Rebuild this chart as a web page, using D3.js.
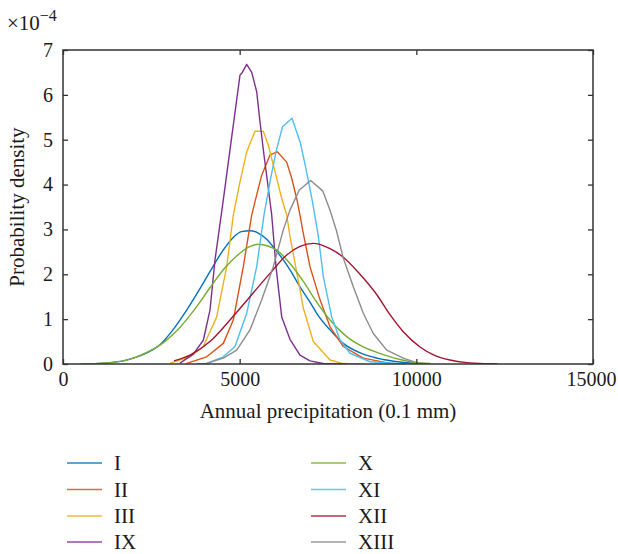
<!DOCTYPE html>
<html>
<head>
<meta charset="utf-8">
<script src="https://cdn.jsdelivr.net/npm/d3@7"></script>
<style>
  html, body { margin: 0; padding: 0; background: #fff; }
  svg { display: block; }
  text { font-family: "Liberation Serif", "DejaVu Serif", serif; fill: #1a1a1a; }
</style>
</head>
<body>
<svg id="chart" width="618" height="554"></svg>
<script>
// Annual precipitation (0.1 mm) and probability density (x 1e-4) per zone
const names = ["I", "II", "III", "IX", "X", "XI", "XII", "XIII"];
const colors = ["#0072BD", "#D95319", "#EDB120", "#7E2F8E", "#77AC30", "#4DBEEE", "#A2142F", "#8C8C8C"];

const xI = [500, 1000, 1330, 1700, 1990, 2400, 2745, 3100, 3500, 3800, 4160, 4500, 4820, 5050, 5292, 5500, 5765, 6000, 6235, 6424, 6707, 6990, 7180, 7557, 7933, 8499, 9065, 9727, 10300];
const yI = [0.00, 0.01, 0.03, 0.07, 0.13, 0.26, 0.43, 0.75, 1.20, 1.58, 2.06, 2.50, 2.82, 2.95, 2.97, 2.93, 2.78, 2.56, 2.32, 2.10, 1.72, 1.38, 1.13, 0.76, 0.46, 0.22, 0.10, 0.03, 0.005];

const xII = [3500, 4067, 4537, 4820, 5103, 5341, 5482, 5624, 5858, 6065, 6331, 6473, 6614, 6707, 6801, 6990, 7274, 7557, 7933, 8499, 9255];
const yII = [0.015, 0.16, 0.46, 0.98, 2.17, 3.32, 3.77, 4.21, 4.66, 4.73, 4.50, 4.14, 3.69, 3.32, 2.91, 2.17, 1.43, 0.83, 0.39, 0.13, 0.015];

const xIII = [3030, 3594, 3971, 4350, 4633, 4820, 5009, 5199, 5434, 5669, 5810, 6000, 6190, 6331, 6424, 6614, 6801, 7084, 7557, 7925, 8500];
const yIII = [0.02, 0.16, 0.39, 1.05, 2.17, 3.32, 4.06, 4.73, 5.19, 5.19, 4.88, 4.29, 3.69, 3.32, 2.85, 2.05, 1.25, 0.50, 0.09, 0.01, 0.0];

const xIX = [3311, 3688, 3971, 4160, 4302, 4537, 4707, 5009, 5075, 5199, 5341, 5482, 5575, 5688, 5810, 5907, 6028, 6190, 6424, 6707, 6990, 7358, 8000];
const yIX = [0.02, 0.22, 0.53, 1.20, 2.32, 3.66, 4.66, 6.44, 6.50, 6.68, 6.50, 6.07, 5.40, 4.66, 3.92, 3.32, 2.17, 1.05, 0.55, 0.20, 0.07, 0.01, 0.0];

const xX = [500, 1000, 1330, 1700, 2086, 2400, 2745, 3217, 3688, 4160, 4537, 5009, 5300, 5529, 5800, 6048, 6424, 6801, 7180, 7557, 8029, 8499, 9065, 9538, 9915, 10400];
const yX = [0.00, 0.01, 0.03, 0.07, 0.16, 0.27, 0.42, 0.74, 1.18, 1.70, 2.10, 2.47, 2.62, 2.67, 2.63, 2.54, 2.24, 1.84, 1.38, 0.98, 0.61, 0.38, 0.21, 0.10, 0.04, 0.01];

const xXI = [3800, 4067, 4537, 4868, 5199, 5482, 5688, 5858, 6028, 6213, 6481, 6722, 6877, 7060, 7226, 7367, 7605, 7840, 8123, 8689, 9500, 10104];
const yXI = [0.0, 0.015, 0.16, 0.39, 1.13, 2.17, 3.32, 4.06, 4.73, 5.29, 5.48, 4.92, 4.35, 3.62, 2.85, 1.95, 1.05, 0.535, 0.24, 0.05, 0.01, 0.0];

const xXII = [3141, 3594, 4160, 4726, 5292, 5858, 6331, 6707, 7084, 7557, 7933, 8405, 8877, 9255, 9631, 10104, 10500, 10953, 11425, 11991, 12300];
const yXII = [0.07, 0.20, 0.50, 0.98, 1.50, 2.02, 2.43, 2.62, 2.69, 2.57, 2.38, 2.00, 1.55, 1.10, 0.72, 0.38, 0.20, 0.09, 0.03, 0.005, 0.0];

const xXIII = [3800, 4067, 4537, 4916, 5292, 5624, 5952, 6235, 6424, 6688, 7010, 7350, 7557, 7740, 7933, 8216, 8499, 8782, 9161, 9631, 10010, 10150];
const yXIII = [0.0, 0.015, 0.13, 0.31, 0.76, 1.43, 2.17, 2.99, 3.43, 3.88, 4.09, 3.86, 3.43, 2.97, 2.36, 1.72, 1.13, 0.68, 0.31, 0.13, 0.03, 0.0];

const xTicks = [0, 5000, 10000, 15000];
const yTicks = [0, 1, 2, 3, 4, 5, 6, 7];

const seriesX = [xI, xII, xIII, xIX, xX, xXI, xXII, xXIII];
const seriesY = [yI, yII, yIII, yIX, yX, yXI, yXII, yXIII];
// smooth kernel-style curves vs. coarsely sampled ones
const smooth = [true, false, false, false, true, false, true, false];

const svg = d3.select("#chart");
const margin = { left: 63, right: 25, top: 50, bottom: 190 };
const W = 618, H = 554;
const x = d3.scaleLinear().domain([0, 15000]).range([margin.left, W - margin.right]);
const y = d3.scaleLinear().domain([0, 7]).range([H - margin.bottom, margin.top]);

const plot = svg.append("g");
plot.append("clipPath").attr("id", "clip")
  .append("rect").attr("x", x(0)).attr("y", y(7)).attr("width", x(15000) - x(0)).attr("height", y(0) - y(7));

const curves = plot.append("g").attr("clip-path", "url(#clip)");
names.forEach((n, i) => {
  const pts = seriesX[i].map((v, j) => [v, seriesY[i][j]]);
  const line = d3.line()
    .x(d => x(d[0])).y(d => y(d[1]))
    .curve(smooth[i] ? d3.curveMonotoneX : d3.curveLinear);
  curves.append("path")
    .datum(pts)
    .attr("d", line)
    .attr("fill", "none")
    .attr("stroke", colors[i])
    .attr("stroke-width", 1.4)
    .attr("stroke-linejoin", "round");
});

// Axes with inward ticks on all four sides
const axisColor = "#333";
const fontSize = "21px";
const tickFont = "20px";
const gb = svg.append("g").attr("transform", `translate(0,${y(0)})`)
  .call(d3.axisBottom(x).tickValues(xTicks).tickFormat(d3.format("d")).tickSize(-5).tickPadding(8));
const gl = svg.append("g").attr("transform", `translate(${x(0)},0)`)
  .call(d3.axisLeft(y).tickValues(yTicks).tickFormat(d3.format("d")).tickSize(-5).tickPadding(10));
const gt = svg.append("g").attr("transform", `translate(0,${y(7)})`)
  .call(d3.axisTop(x).tickValues(xTicks).tickFormat("").tickSize(-5));
const gr = svg.append("g").attr("transform", `translate(${x(15000)},0)`)
  .call(d3.axisRight(y).tickValues(yTicks).tickFormat("").tickSize(-5));
[gb, gl, gt, gr].forEach(g => {
  g.select(".domain").remove();
  g.selectAll("line").attr("stroke", axisColor).attr("stroke-width", 1.3);
  g.selectAll("text").style("font-family", "'Liberation Serif', serif").style("font-size", tickFont).attr("fill", "#1a1a1a");
});
// keep the last x label inside the canvas
gb.selectAll(".tick text").filter(d => d === 15000).attr("dx", -2);

svg.append("rect")
  .attr("x", x(0)).attr("y", y(7))
  .attr("width", x(15000) - x(0)).attr("height", y(0) - y(7))
  .attr("fill", "none").attr("stroke", axisColor).attr("stroke-width", 1.5);

// Exponent label
const ex = svg.append("text").attr("x", 7).attr("y", 30).style("font-size", fontSize);
ex.append("tspan").text("×10");
ex.append("tspan").attr("dy", -9).style("font-size", "16px").text("−4");

// Axis titles
svg.append("text")
  .attr("transform", `translate(24,${(y(0) + y(7)) / 2}) rotate(-90)`)
  .attr("text-anchor", "middle")
  .style("font-size", fontSize)
  .text("Probability density");
svg.append("text")
  .attr("x", (x(0) + x(15000)) / 2).attr("y", 418)
  .attr("text-anchor", "middle")
  .style("font-size", fontSize)
  .text("Annual precipitation (0.1 mm)");

// Legend in two columns
const legend = svg.append("g");
const rowY = [463, 489.5, 516, 542];
names.forEach((n, i) => {
  const col = Math.floor(i / 4), row = i % 4;
  const lx = col === 0 ? 67 : 311;
  const g = legend.append("g").attr("transform", `translate(${lx},${rowY[row]})`);
  g.append("line").attr("x1", 0).attr("x2", 35).attr("y1", 0).attr("y2", 0)
    .attr("stroke", colors[i]).attr("stroke-width", 1.5).attr("opacity", 0.85);
  g.append("text").attr("x", 47).attr("y", 7).style("font-size", fontSize).text(n);
});
</script>
</body>
</html>
